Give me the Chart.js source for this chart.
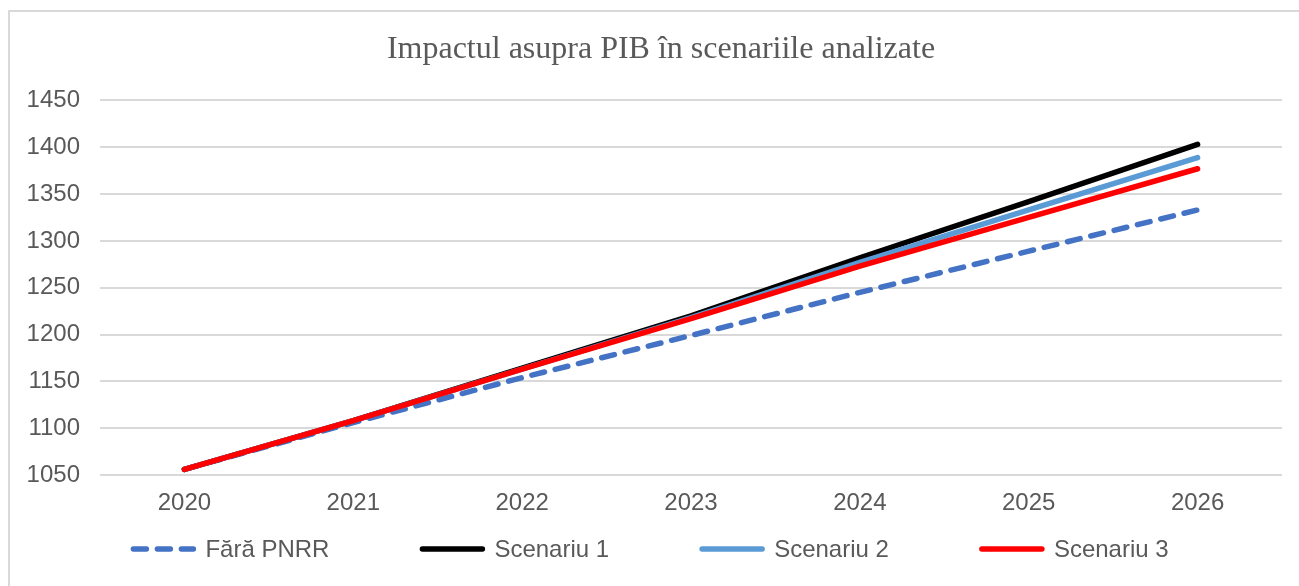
<!DOCTYPE html>
<html>
<head>
<meta charset="utf-8">
<title>Impactul asupra PIB</title>
<script src="https://cdn.jsdelivr.net/npm/chart.js@4/dist/chart.umd.min.js"></script>
<style>
  html, body { margin: 0; padding: 0; background: #fff; overflow: hidden; }
  #frame {
    position: absolute; left: 8px; top: 10px; width: 1400px; height: 700px;
    border-left: 2px solid #d9d9d9; border-top: 2px solid #d9d9d9;
  }
  #wrap { position: absolute; left: 0; top: 0; width: 1299px; height: 586px; }
</style>
</head>
<body>
<div id="frame"></div>
<div id="wrap"><canvas id="chart"></canvas></div>
<script>
const years = ["2020", "2021", "2022", "2023", "2024", "2025", "2026"];
const faraPnrr = [1056, 1106, 1154, 1199, 1245, 1289, 1333];
const scenariu1 = [1056, 1108, 1164, 1220, 1282, 1342, 1403];
const scenariu2 = [1056, 1108, 1163, 1218, 1277, 1333, 1389];
const scenariu3 = [1056, 1108, 1163, 1217, 1273, 1325, 1377];

const grey = "#595959";

// legend drawn by hand: Chart.js uses one padding for both gaps and row height
const lineLegend = {
    id: "lineLegend",
    afterLayout(chart) {
        // title sits centred on the whole frame, not on the plot
        if (chart.titleBlock) chart.titleBlock.left = 40;
    },
    afterDraw(chart) {
        const ctx = chart.ctx;
        const sample = 66, gap = 9, spacing = 90, y = 549;
        ctx.save();
        ctx.font = "24px 'Liberation Sans', Arial, sans-serif";
        ctx.textBaseline = "middle";
        const items = chart.data.datasets.map((ds) => ({
            ds,
            w: sample + gap + ctx.measureText(ds.label).width,
        }));
        const total = items.reduce((s, it) => s + it.w, 0) + spacing * (items.length - 1);
        let x = (chart.width - total) / 2;
        items.forEach(({ ds, w }) => {
            ctx.beginPath();
            ctx.strokeStyle = ds.borderColor;
            ctx.lineWidth = ds.borderWidth;
            ctx.lineCap = "round";
            ctx.setLineDash(ds.borderDash || []);
            ctx.moveTo(x + 3, y);
            ctx.lineTo(x + sample - 3, y);
            ctx.stroke();
            ctx.setLineDash([]);
            ctx.fillStyle = grey;
            ctx.fillText(ds.label, x + sample + gap, y + 1);
            x += w + spacing;
        });
        ctx.restore();
    },
};

// lower order is drawn on top, so Scenariu 3 ends up over the rest
const line = (label, data, color, order, dash) => ({
    label,
    data,
    order,
    borderColor: color,
    backgroundColor: color,
    borderWidth: 5.5,
    borderDash: dash,
    borderCapStyle: "round",
    borderJoinStyle: "round",
    pointRadius: 0,
    tension: 0,
});

new Chart(document.getElementById("chart"), {
    type: "line",
    data: {
        labels: years,
        datasets: [
            line("Fără PNRR", faraPnrr, "#4472c4", 4, [13, 11]),
            line("Scenariu 1", scenariu1, "#000000", 3),
            line("Scenariu 2", scenariu2, "#5b9bd5", 2),
            line("Scenariu 3", scenariu3, "#ff0000", 1),
        ],
    },
    options: {
        responsive: true,
        maintainAspectRatio: false,
        animation: false,
        layout: { padding: { left: 0, right: 17, top: 0, bottom: 61 } },
        plugins: {
            legend: { display: false },
            tooltip: { enabled: false },
            title: {
                display: true,
                text: "Impactul asupra PIB în scenariile analizate",
                color: grey,
                font: { family: "'Liberation Serif', 'Times New Roman', serif", size: 32, weight: "normal", lineHeight: 1.2 },
                padding: { top: 30, bottom: 32 },
            },
        },
        scales: {
            x: {
                offset: true,
                grid: { display: false, drawTicks: false },
                border: { display: false },
                ticks: {
                    color: grey,
                    padding: 14,
                    font: { family: "'Liberation Sans', Arial, sans-serif", size: 24 },
                },
                afterFit: (scale) => { scale.height = 50; },
            },
            y: {
                min: 1050,
                max: 1450,
                grid: { color: "#d9d9d9", lineWidth: 2, drawTicks: false },
                border: { display: false },
                ticks: {
                    stepSize: 50,
                    color: grey,
                    padding: 20,
                    font: { family: "'Liberation Sans', Arial, sans-serif", size: 24 },
                    callback: (v) => String(v),
                },
                afterFit: (scale) => { scale.width = 100; },
            },
        },
    },
    plugins: [lineLegend],
});
</script>
</body>
</html>
